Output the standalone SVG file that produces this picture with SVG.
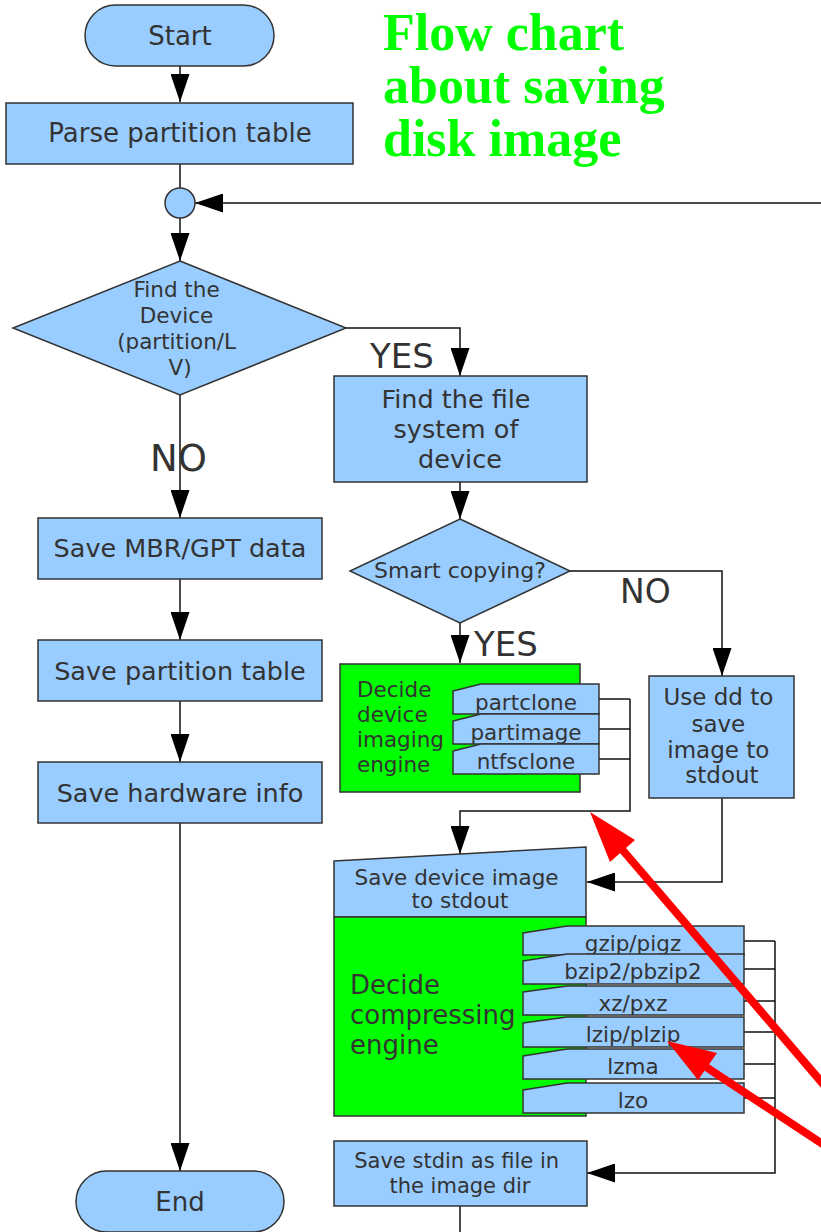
<svg xmlns="http://www.w3.org/2000/svg" width="821" height="1232" viewBox="0 0 821 1232">
<style>
.s{fill:#99ccff;stroke:#333;stroke-width:1.5}
.g{fill:#00ff00;stroke:#333;stroke-width:1.5}
.t{font-family:"DejaVu Sans","Liberation Sans",sans-serif;fill:#333;text-anchor:middle}
.tl{font-family:"DejaVu Sans","Liberation Sans",sans-serif;fill:#333;text-anchor:start}
.c{fill:none;stroke:#111;stroke-width:1.5}
.title{font-family:"Liberation Serif",serif;font-weight:bold;font-size:52px;fill:#00ff00}
</style>
<defs>
<marker id="ah" viewBox="0 0 28 19" refX="28" refY="9.5" markerWidth="28" markerHeight="19" orient="auto" markerUnits="userSpaceOnUse">
<path d="M0,0 L28,9.5 L0,19 z" fill="#000"/>
</marker>
</defs>
<rect width="821" height="1232" fill="#fff"/>

<g id="title">
<text class="title" x="383" y="50">Flow chart</text>
<text class="title" x="383" y="103">about saving</text>
<text class="title" x="383" y="156">disk image</text>
</g>

<g id="connectors">
<path class="c" d="M180,66 V102" marker-end="url(#ah)"/>
<path class="c" d="M180,164 V188"/>
<path class="c" d="M821,203 H195" marker-end="url(#ah)"/>
<path class="c" d="M180,218 V261" marker-end="url(#ah)"/>
<path class="c" d="M346,328 H460 V376" marker-end="url(#ah)"/>
<path class="c" d="M180,395 V518" marker-end="url(#ah)"/>
<path class="c" d="M180,579 V640" marker-end="url(#ah)"/>
<path class="c" d="M180,701 V762" marker-end="url(#ah)"/>
<path class="c" d="M180,823 V1171" marker-end="url(#ah)"/>
<path class="c" d="M460,482 V519" marker-end="url(#ah)"/>
<path class="c" d="M570,571 H722 V676" marker-end="url(#ah)"/>
<path class="c" d="M460,623 V663" marker-end="url(#ah)"/>
<path class="c" d="M599,699 H630 M599,729 H630 M599,759 H630"/>
<path class="c" d="M630,699 V811 H460 V854" marker-end="url(#ah)"/>
<path class="c" d="M722,798 V882 H587" marker-end="url(#ah)"/>
<path class="c" d="M744,941 H775 M744,969 H775 M744,1001 H775 M744,1032 H775 M744,1064 H775 M744,1098 H775"/>
<path class="c" d="M775,941 V1173 H587" marker-end="url(#ah)"/>
<path class="c" d="M460,1206 V1232"/>
</g>

<g id="start">
<rect class="s" x="85" y="5" width="189" height="61" rx="30.5"/>
<text class="t" x="180" y="45" font-size="26">Start</text>
</g>

<g id="parse">
<rect class="s" x="6" y="103" width="347" height="61"/>
<text class="t" x="180" y="142" font-size="26">Parse partition table</text>
</g>

<g id="junction">
<circle class="s" cx="180" cy="203" r="15"/>
</g>

<g id="find-device">
<polygon class="s" points="180,261 346,328 180,395 13,328"/>
<text class="t" font-size="21.5">
<tspan x="180" y="297">Find the</tspan>
<tspan x="180" y="323">Device</tspan>
<tspan x="180" y="349">(partition/L</tspan>
<tspan x="180" y="375">V)</tspan>
</text>
</g>

<g id="labels">
<text class="tl" x="370" y="368" font-size="34">YES</text>
<text class="tl" x="150" y="471" font-size="37">NO</text>
<text class="tl" x="620" y="603" font-size="33">NO</text>
<text class="tl" x="474" y="656" font-size="34">YES</text>
</g>

<g id="save-mbr">
<rect class="s" x="38" y="518" width="284" height="61"/>
<text class="t" x="180" y="557" font-size="25.5">Save MBR/GPT data</text>
</g>

<g id="save-pt">
<rect class="s" x="38" y="640" width="284" height="61"/>
<text class="t" x="180" y="680" font-size="25.5">Save partition table</text>
</g>

<g id="save-hw">
<rect class="s" x="38" y="762" width="284" height="61"/>
<text class="t" x="180" y="802" font-size="25.5">Save hardware info</text>
</g>

<g id="end">
<rect class="s" x="76" y="1171" width="208" height="61" rx="30.5"/>
<text class="t" x="180" y="1211" font-size="26">End</text>
</g>

<g id="find-fs">
<rect class="s" x="334" y="376" width="253" height="106"/>
<text class="t" font-size="25.5">
<tspan x="460" y="408">Find the file</tspan>
<tspan x="460" y="438">system of</tspan>
<tspan x="460" y="468">device</tspan>
</text>
</g>

<g id="smart">
<polygon class="s" points="460,519 570,571 460,623 350,571"/>
<text class="t" x="460" y="578" font-size="22">Smart copying?</text>
</g>

<g id="imaging-engine">
<rect class="g" x="340" y="664" width="240" height="128"/>
<text class="tl" font-size="21.5">
<tspan x="357" y="697">Decide</tspan>
<tspan x="357" y="722">device</tspan>
<tspan x="357" y="747">imaging</tspan>
<tspan x="357" y="772">engine</tspan>
</text>
</g>

<g id="partclone">
<path class="s" d="M453,691 L481,684 H599 V714 H453 Z"/>
<text class="t" x="526" y="710" font-size="21.5">partclone</text>
</g>
<g id="partimage">
<path class="s" d="M453,721 L481,714 H599 V744 H453 Z"/>
<text class="t" x="526" y="740" font-size="21.5">partimage</text>
</g>
<g id="ntfsclone">
<path class="s" d="M453,751 L481,744 H599 V774 H453 Z"/>
<text class="t" x="526" y="769" font-size="21.5">ntfsclone</text>
</g>

<g id="use-dd">
<rect class="s" x="649" y="676" width="145" height="122"/>
<text class="t" font-size="23">
<tspan x="722" y="705">Use dd to</tspan>
<tspan x="722" y="732">save</tspan>
<tspan x="722" y="758">image to</tspan>
<tspan x="722" y="783">stdout</tspan>
</text>
</g>

<g id="save-device-image">
<path class="s" d="M334,861 L586,847 V917 H334 Z"/>
<text class="t" font-size="21.5">
<tspan x="460" y="885">Save device image</tspan>
<tspan x="460" y="908">to stdout</tspan>
</text>
</g>

<g id="compress-engine">
<rect class="g" x="334" y="917" width="252" height="199"/>
<text class="tl" font-size="26">
<tspan x="350" y="994">Decide</tspan>
<tspan x="350" y="1024">compressing</tspan>
<tspan x="350" y="1054">engine</tspan>
</text>
</g>

<g id="gzip">
<path class="s" d="M523,933 L567,926 H744 V955 H523 Z"/>
<text class="t" x="633" y="951" font-size="21.5">gzip/pigz</text>
</g>
<g id="bzip2">
<path class="s" d="M523,961 L567,954 H744 V984 H523 Z"/>
<text class="t" x="633" y="979" font-size="21.5">bzip2/pbzip2</text>
</g>
<g id="xz">
<path class="s" d="M523,992 L567,986 H744 V1015 H523 Z"/>
<text class="t" x="633" y="1011" font-size="21.5">xz/pxz</text>
</g>
<g id="lzip">
<path class="s" d="M523,1023 L567,1017 H744 V1047 H523 Z"/>
<text class="t" x="633" y="1042" font-size="21.5">lzip/plzip</text>
</g>
<g id="lzma">
<path class="s" d="M523,1056 L567,1049 H744 V1079 H523 Z"/>
<text class="t" x="633" y="1074" font-size="21.5">lzma</text>
</g>
<g id="lzo">
<path class="s" d="M523,1090 L567,1083 H744 V1113 H523 Z"/>
<text class="t" x="633" y="1108" font-size="21.5">lzo</text>
</g>

<g id="save-stdin">
<rect class="s" x="334" y="1141" width="253" height="65"/>
<text class="t" font-size="21">
<tspan x="460" y="1168">Save stdin as file in</tspan>
<tspan x="460" y="1193">the image dir</tspan>
</text>
</g>

<g id="red-arrows">
<line x1="830" y1="1092" x2="620" y2="847" stroke="#ff0000" stroke-width="8"/>
<polygon points="590,812 635,840 610,862" fill="#ff0000"/>
<line x1="830" y1="1149" x2="700" y2="1063" stroke="#ff0000" stroke-width="8"/>
<polygon points="667,1041 717,1053 698,1080" fill="#ff0000"/>
</g>
</svg>
